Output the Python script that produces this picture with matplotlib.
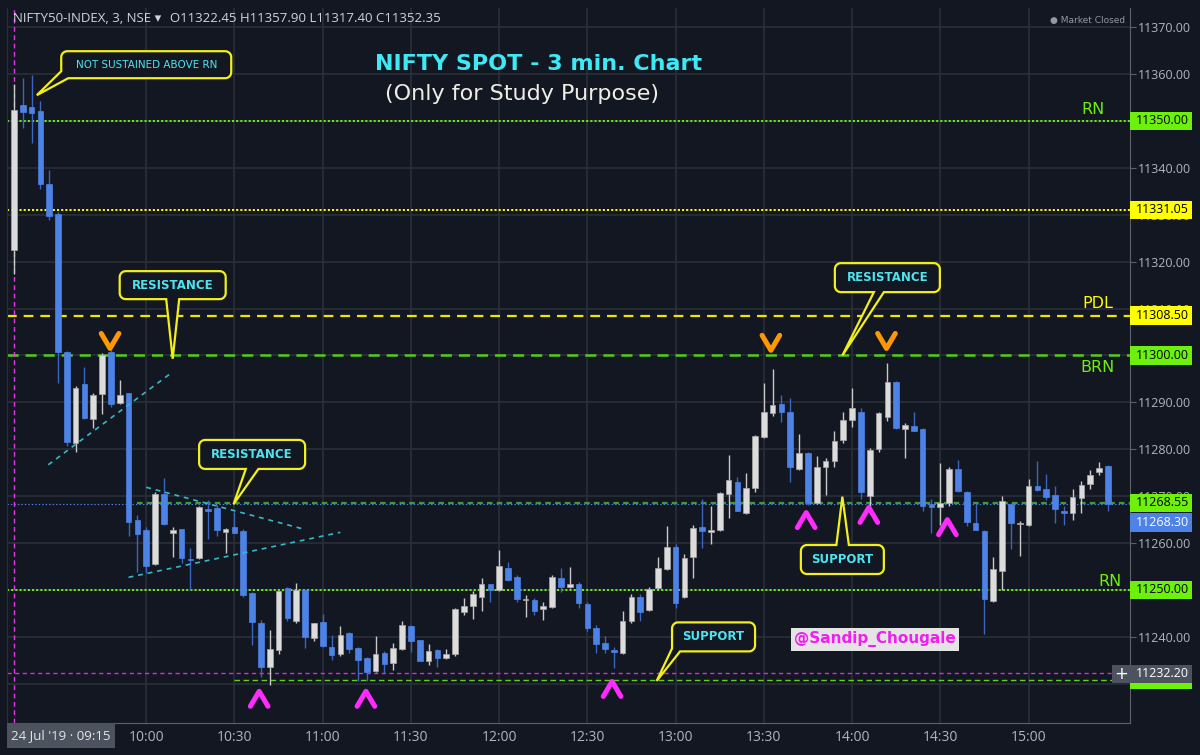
import numpy as np
import matplotlib
matplotlib.use('Agg')
from matplotlib import pyplot as plt
from matplotlib import transforms as mtransforms
from matplotlib.patches import Rectangle, Polygon

plt.rcParams['font.family'] = ['DejaVu Sans']
plt.rcParams['lines.scale_dashes'] = False

# 3-minute candles, 24 Jul 2019, 09:15 .. 15:27 (bar index 0..124)
opens = [11322.45, 11353.4, 11353.0, 11352.2, 11336.6, 11330.2, 11300.8, 11281.3, 11293.9, 11286.4,
         11291.7, 11300.7, 11289.8, 11291.9, 11264.9, 11262.7, 11255.6, 11270.4, 11262.2, 11262.9,
         11256.7, 11256.8, 11267.3, 11267.4, 11262.4, 11263.4, 11262.6, 11249.3, 11243.0, 11233.6,
         11237.2, 11250.4, 11243.3, 11249.9, 11239.7, 11243.1, 11237.9, 11236.3, 11240.8, 11237.6,
         11235.5, 11232.8, 11236.5, 11234.5, 11237.4, 11242.3, 11239.3, 11234.8, 11237.2, 11235.5,
         11236.3, 11245.4, 11246.6, 11248.6, 11251.2, 11249.9, 11254.6, 11252.8, 11247.8, 11247.9,
         11245.9, 11246.3, 11252.5, 11250.7, 11251.3, 11247.1, 11241.8, 11238.8, 11237.2, 11236.5,
         11243.4, 11248.6, 11245.8, 11250.4, 11254.5, 11259.2, 11248.4, 11257.1, 11263.4, 11262.3,
         11262.8, 11270.5, 11273.0, 11266.4, 11271.7, 11282.7, 11287.7, 11289.7, 11288.0, 11275.7,
         11279.3, 11268.5, 11276.2, 11277.6, 11282.0, 11286.2, 11288.0, 11270.1, 11280.0, 11286.8,
         11294.4, 11284.3, 11285.0, 11284.3, 11268.3, 11267.8, 11268.6, 11275.8, 11270.8, 11264.2,
         11262.6, 11247.6, 11254.1, 11268.3, 11264.0, 11263.8, 11272.2, 11271.5, 11270.3, 11266.8,
         11266.4, 11269.7, 11272.6, 11275.2, 11276.4]
highs = [11357.90, 11359.1, 11359.8, 11354.3, 11339.6, 11330.5, 11301.0, 11293.4, 11297.5, 11292.0,
         11300.5, 11301.2, 11294.8, 11292.0, 11266.0, 11263.4, 11270.8, 11273.8, 11263.4, 11263.0,
         11258.9, 11268.0, 11269.2, 11268.1, 11263.2, 11266.7, 11263.0, 11249.5, 11243.5, 11241.5,
         11249.8, 11250.6, 11251.4, 11250.2, 11243.0, 11244.9, 11240.5, 11242.4, 11241.0, 11237.8,
         11235.8, 11240.1, 11236.9, 11238.7, 11243.3, 11242.5, 11239.4, 11238.5, 11237.5, 11237.5,
         11246.2, 11248.3, 11249.7, 11252.5, 11251.3, 11258.5, 11256.0, 11253.2, 11248.9, 11248.3,
         11247.5, 11253.2, 11254.6, 11254.8, 11251.6, 11247.5, 11242.5, 11240.2, 11237.8, 11245.6,
         11249.2, 11249.1, 11250.6, 11257.1, 11263.6, 11259.8, 11257.7, 11263.8, 11269.4, 11268.0,
         11270.8, 11278.8, 11274.0, 11274.9, 11283.1, 11294.1, 11297.1, 11291.6, 11290.9, 11283.3,
         11279.5, 11278.6, 11278.1, 11284.0, 11288.0, 11293.1, 11288.7, 11280.2, 11288.0, 11298.3,
         11294.6, 11285.6, 11288.0, 11284.6, 11269.4, 11277.0, 11276.2, 11277.7, 11271.0, 11268.3,
         11262.8, 11257.1, 11270.0, 11268.6, 11264.7, 11273.6, 11277.5, 11274.7, 11272.2, 11267.9,
         11271.5, 11273.3, 11275.6, 11277.2, 11276.6]
lows = [11317.40, 11348.4, 11345.4, 11335.5, 11328.8, 11294.1, 11280.8, 11279.5, 11286.4, 11284.6,
        11287.5, 11289.0, 11289.6, 11261.5, 11253.9, 11253.6, 11255.3, 11263.9, 11257.0, 11255.7,
        11250.0, 11256.7, 11260.8, 11261.5, 11257.9, 11262.1, 11248.6, 11238.3, 11231.5, 11229.7,
        11236.4, 11243.3, 11242.9, 11237.6, 11239.2, 11237.9, 11235.1, 11235.9, 11236.5, 11230.6,
        11230.6, 11232.6, 11232.2, 11233.0, 11237.1, 11236.7, 11234.8, 11233.9, 11233.5, 11235.2,
        11236.0, 11244.7, 11243.8, 11245.6, 11247.5, 11249.7, 11252.0, 11247.5, 11244.2, 11244.7,
        11243.6, 11246.1, 11249.5, 11250.4, 11246.2, 11241.3, 11236.5, 11236.5, 11233.3, 11236.3,
        11243.0, 11243.3, 11245.6, 11250.2, 11254.3, 11246.2, 11248.2, 11252.5, 11258.9, 11259.8,
        11262.6, 11265.3, 11266.9, 11266.2, 11270.8, 11282.5, 11287.1, 11285.9, 11273.1, 11275.5,
        11268.2, 11268.3, 11270.3, 11276.3, 11281.3, 11284.7, 11269.4, 11267.9, 11279.5, 11286.0,
        11284.4, 11278.1, 11283.8, 11266.9, 11262.2, 11263.9, 11268.0, 11270.9, 11263.6, 11262.8,
        11240.6, 11247.4, 11249.9, 11258.7, 11257.2, 11263.6, 11271.2, 11269.2, 11264.2, 11263.9,
        11264.9, 11266.4, 11271.5, 11274.5, 11266.9]
closes = [11352.35, 11352.0, 11351.8, 11336.5, 11329.8, 11300.8, 11281.6, 11293.0, 11286.6, 11291.5,
          11300.2, 11289.7, 11291.6, 11264.6, 11261.9, 11255.2, 11270.4, 11264.1, 11262.7, 11256.8,
          11256.4, 11267.6, 11266.9, 11262.7, 11263.1, 11262.2, 11248.9, 11243.1, 11233.5, 11237.4,
          11249.7, 11244.1, 11249.9, 11239.9, 11242.9, 11238.1, 11236.1, 11240.5, 11237.4, 11235.1,
          11232.5, 11236.3, 11234.2, 11237.6, 11242.5, 11239.1, 11234.9, 11236.9, 11235.5, 11236.3,
          11246.0, 11246.5, 11249.1, 11251.2, 11249.9, 11255.1, 11252.1, 11248.0, 11248.0, 11245.6,
          11246.5, 11252.7, 11250.7, 11251.2, 11247.3, 11241.8, 11238.4, 11237.4, 11236.8, 11243.4,
          11248.6, 11245.3, 11250.3, 11254.6, 11259.2, 11247.2, 11256.8, 11263.3, 11262.5, 11262.8,
          11270.6, 11273.5, 11266.9, 11271.7, 11282.9, 11288.0, 11289.4, 11287.9, 11276.3, 11279.3,
          11268.5, 11276.3, 11277.6, 11281.8, 11286.2, 11288.7, 11270.8, 11279.8, 11287.8, 11294.4,
          11284.6, 11285.2, 11284.0, 11268.0, 11267.8, 11268.6, 11275.8, 11271.1, 11264.5, 11262.8,
          11248.1, 11254.4, 11269.0, 11264.2, 11264.2, 11272.2, 11271.3, 11269.9, 11267.2, 11266.5,
          11269.9, 11272.4, 11274.5, 11276.1, 11268.3]

time_ticks = [15, 25, 35, 45, 55, 65, 75, 85, 95, 105, 115]
time_labels = ['10:00', '10:30', '11:00', '11:30', '12:00', '12:30', '13:00',
               '13:30', '14:00', '14:30', '15:00']
price_ticks = list(range(11230, 11371, 10))
hidden_ticks = [11230, 11250, 11300, 11350]   # fully covered by level tags

# levels drawn on the chart
rn_levels = [11350.0, 11250.0]
yellow_dotted = 11331.05
pdl = 11308.50
brn = 11300.0
support_green = 11268.55
last_price = 11268.30
magenta_level = 11232.20
low_green = 11230.90

# trend lines (bar index, price)
trend_lines = [((3.9, 11276.7), (18.0, 11296.5)),
               ((15.0, 11271.9), (33.0, 11262.9)),
               ((13.0, 11252.7), (37.0, 11262.3))]

top_marks = [(10.9, 11303.1), (85.8, 11302.7), (98.9, 11303.1)]
bottom_marks = [(27.8, 11226.8), (39.9, 11226.8), (67.8, 11228.9),
                (89.8, 11264.9), (96.9, 11266.0), (105.8, 11263.4)]

BG = '#131722'
GRID = '#2a2e39'
UP, UP_WICK = '#dcdcdc', '#c9c9c9'
DN, DN_WICK = '#4d82e6', '#3a66c0'
GREEN = '#6cf00c'
YELLOW = '#ffff00'
CYAN = '#4fe3ee'
MAGENTA = '#ff2bff'
AXIS_TXT = '#b2b5be'

fig = plt.figure(figsize=(12, 7.55), dpi=100, facecolor=BG)
ax = fig.add_axes([7 / 1200, 32 / 755, 1123 / 1200, 715 / 755], facecolor=BG)
ax.set_xlim(-0.78, 126.5)
ax.set_ylim(11221.64, 11374.09)
ax.set_axisbelow(True)

# axes look
ax.spines['top'].set_visible(False)
ax.spines['right'].set_color('#5d606b')
ax.spines['bottom'].set_color('#5d606b')
ax.spines['left'].set_color('#2a2e39')
ax.yaxis.tick_right()
ax.set_yticks(price_ticks)
ax.set_yticklabels(['' if v in hidden_ticks else '%.2f' % v for v in price_ticks])
ax.set_xticks(time_ticks)
ax.set_xticklabels(time_labels)
ax.tick_params(axis='y', length=4, color='#5d606b', labelcolor=AXIS_TXT, labelsize=9, pad=2)
ax.tick_params(axis='x', length=0, labelcolor=AXIS_TXT, labelsize=10, pad=5)
for lab in ax.get_yticklabels() + ax.get_xticklabels():
    lab.set_fontfamily(['Open Sans', 'DejaVu Sans'])
ax.grid(True, color=GRID, lw=1.2)

# candles
o, h, l, c = map(np.array, (opens, highs, lows, closes))
x = np.arange(len(o))
up = c >= o
ax.vlines(x, l, h, colors=np.where(up, UP_WICK, DN_WICK).tolist(), lw=1, zorder=3)
ax.bar(x, np.maximum(np.abs(c - o), 0.3), bottom=np.minimum(o, c), width=0.64,
       color=np.where(up, UP, DN).tolist(), edgecolor=np.where(up, '#a8a8a8', DN).tolist(),
       lw=0.5, zorder=4)

# horizontal levels
x0, x1 = ax.get_xlim()
for lv in rn_levels:
    ax.hlines(lv, x0, x1, color=GREEN, lw=1.4, linestyles=(0, (1.5, 1.5)), zorder=2)
ax.hlines(yellow_dotted, x0, x1, color=YELLOW, lw=1.4, linestyles=(0, (1.5, 1.5)), zorder=2)
ax.hlines(pdl, x0, x1, color='#f5e400', lw=1.6, linestyles=(0, (7, 5)), zorder=2)
ax.hlines(brn, x0, x1, color='#52cc18', lw=1.8, linestyles=(0, (8, 5)), zorder=2)
ax.hlines(support_green, 14, x1, color='#3e9e30', lw=1.6, linestyles=(0, (4, 3)), zorder=2)
ax.hlines(last_price, x0, x1, color=DN, lw=0.8, linestyles=(0, (1, 1.5)), zorder=2)
ax.hlines(magenta_level, x0, x1, color='#d92bd9', lw=1.0, linestyles=(0, (3, 2.5)), zorder=2)
ax.hlines(low_green, 25, x1, color='#5fd31a', lw=1.0, linestyles=(0, (4, 2.5)), zorder=2)
ax.axvline(0, color='#e535e5', lw=1.0, ls=(0, (3.5, 2.5)), zorder=2)

for (xa, ya), (xb, yb) in trend_lines:
    ax.plot([xa, xb], [ya, yb], color='#35b9c9', lw=1.2, ls=(0, (3.5, 3.5)), zorder=5)

for cx, cy in top_marks:
    ax.plot([cx - 1.0, cx, cx + 1.0], [cy + 1.6, cy - 1.6, cy + 1.6], color='#ff9800', lw=3.6,
            solid_capstyle='round', solid_joinstyle='round', zorder=6)
for cx, cy in bottom_marks:
    ax.plot([cx - 1.0, cx, cx + 1.0], [cy - 1.6, cy + 1.6, cy - 1.6], color=MAGENTA, lw=3.6,
            solid_capstyle='round', solid_joinstyle='round', zorder=6)


def callout(text, center, size, tip, kind, base, fs, weight='bold'):
    cx, cy = ax.transData.transform(center)
    tx, ty = ax.transData.transform(tip)
    w, hgt = size
    bx0, bx1, by0, by1 = cx - w / 2, cx + w / 2, cy - hgt / 2, cy + hgt / 2
    r = 6

    def arc(xc, yc, a0, a1):
        t = np.radians(np.linspace(a0, a1, 8))
        return list(zip(xc + r * np.cos(t), yc + r * np.sin(t)))

    pts = []
    if kind == 'bl':
        pts += [(bx0, by0 + base[0]), (tx, ty), (bx0 + base[1], by0)]
    else:
        pts += arc(bx0 + r, by0 + r, 180, 270)
    if kind == 'bottom':
        pts += [(cx + base[0], by0), (tx, ty), (cx + base[1], by0)]
    pts += arc(bx1 - r, by0 + r, 270, 360)
    pts += arc(bx1 - r, by1 - r, 0, 90)
    if kind == 'top':
        pts += [(cx + base[1], by1), (tx, ty), (cx + base[0], by1)]
    pts += arc(bx0 + r, by1 - r, 90, 180)
    pts = ax.transData.inverted().transform(np.array(pts))
    ax.add_patch(Polygon(pts, closed=True, fc=BG, ec='#f2ef1a', lw=1.6, zorder=7))
    ax.text(center[0], center[1], text, color=CYAN, fontsize=fs, fontweight=weight,
            ha='center', va='center', zorder=8)


callout('NOT SUSTAINED ABOVE RN', (15.0, 11362.0), (170, 27), (2.6, 11355.5), 'bl', (7, 7), 7.5, 'normal')
callout('RESISTANCE', (18.0, 11315.0), (106, 28), (18.0, 11299.3), 'bottom', (-6.5, 6.5), 8.5)
callout('RESISTANCE', (27.0, 11278.9), (106, 29), (24.9, 11268.3), 'bottom', (-6.3, 6.3), 8.5)
callout('RESISTANCE', (99.0, 11316.6), (105, 29), (93.9, 11300.0), 'bottom', (-13.5, -3.5), 8.5)
callout('SUPPORT', (93.9, 11256.5), (83, 29), (93.9, 11269.9), 'top', (-6, 6.5), 8.5)
callout('SUPPORT', (79.3, 11240.0), (83, 29), (72.85, 11230.6), 'bl', (3, 8), 8.5)

ax.text(97.6, 11239.5, '@Sandip_Chougale', color='#f01ef0', fontsize=11, fontweight='bold',
        ha='center', va='center', zorder=8,
        bbox=dict(boxstyle='square,pad=0.22', fc='#e4e4e4', ec='none'))

# level names
ax.text(122.3, 11352.4, 'RN', color=GREEN, fontsize=11.5, ha='center', va='center', zorder=8)
ax.text(122.8, 11311.0, 'PDL', color=YELLOW, fontsize=11.5, ha='center', va='center', zorder=8)
ax.text(122.8, 11297.4, 'BRN', color=GREEN, fontsize=11.5, ha='center', va='center', zorder=8)
ax.text(124.2, 11251.9, 'RN', color=GREEN, fontsize=11.5, ha='center', va='center', zorder=8)

# price tags on the axis
blend = mtransforms.blended_transform_factory(ax.transAxes, ax.transData)
tag_w = 62 / 1123
tag_hh = 9.3 / 4.69


def price_tag(ypos, text, fc, tc, xstart=1.0):
    ax.add_patch(Rectangle((xstart, ypos - tag_hh), 1.0 + tag_w - xstart, 2 * tag_hh,
                           transform=blend, fc=fc, ec='none', clip_on=False, zorder=10))
    ax.text(1.0 + 6 / 1123, ypos, text, transform=blend, color=tc, fontsize=9,
            family=['Open Sans', 'DejaVu Sans'], ha='left', va='center', clip_on=False, zorder=11)


price_tag(11350.0, '11350.00', GREEN, 'black')
price_tag(11331.05, '11331.05', YELLOW, 'black')
price_tag(11308.5, '11308.50', YELLOW, 'black')
price_tag(11300.0, '11300.00', GREEN, 'black')
price_tag(11268.55, '11268.55', GREEN, 'black')
price_tag(11264.35, '11268.30', DN, 'white')
price_tag(11250.0, '11250.00', GREEN, 'black')
price_tag(11230.9, '', GREEN, 'black')
price_tag(11232.1, '11232.20', '#4c525e', 'white', xstart=1.0 - 18 / 1123)
ax.text(1.0 - 9 / 1123, 11232.1, '+', transform=blend, color='white', fontsize=12,
        ha='center', va='center', clip_on=False, zorder=11)

# header / title
fig.text(13 / 1200, 1 - 18 / 755, 'NIFTY50-INDEX, 3, NSE \u25be', color='#d1d4dc', fontsize=9.5,
         family=['Open Sans', 'DejaVu Sans'], va='center')
fig.text(170 / 1200, 1 - 18 / 755, 'O11322.45 H11357.90 L11317.40 C11352.35', color='#d1d4dc',
         fontsize=9.5, family=['Open Sans', 'DejaVu Sans'], va='center')
fig.text(1125 / 1200, 1 - 21 / 755, '\u25cf Market Closed', color='#9598a1', fontsize=6.5,
         ha='right', va='center')
fig.text(539 / 1200, 1 - 64 / 755, 'NIFTY SPOT - 3 min. Chart', color='#3fe8f5', fontsize=16,
         fontweight='bold', ha='center', va='center')
fig.text(522 / 1200, 1 - 94 / 755, '(Only for Study Purpose)', color='#eeeee4', fontsize=16,
         ha='center', va='center')

# date box at the left of the time axis
fig.add_artist(Rectangle((7 / 1200, 7 / 755), 108 / 1200, 25 / 755, transform=fig.transFigure,
                         fc='#4c525e', ec='none'))
fig.text(61 / 1200, 1 - 736 / 755, "24 Jul '19 \u00b7 09:15", color='#e6e6e6', fontsize=9.5,
         family=['Open Sans', 'DejaVu Sans'], ha='center', va='center')

fig.savefig('out.png', dpi=100, facecolor=BG)
